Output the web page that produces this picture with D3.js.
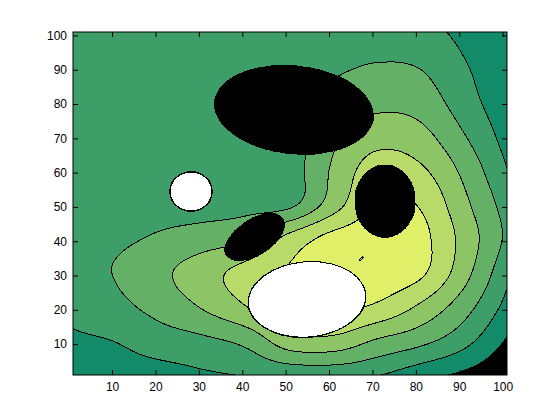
<!DOCTYPE html>
<html>
<head>
<meta charset="utf-8">
<script src="https://cdn.jsdelivr.net/npm/d3@7"></script>
<style>
  body { margin: 0; background: #fff; }
  text { font-family: "Liberation Sans", Arial, sans-serif; font-size: 12px; }
</style>
</head>
<body>
<div id="chart"></div>
<script>
// coarse samples of the smooth surface, every 10 units (rows go up in y, columns go right in x)
var gridX = [1, 11, 21, 31, 41, 51, 61, 71, 81, 91, 101];
var gridY = [1, 11, 21, 31, 41, 51, 61, 71, 81, 91, 101];
var surface = [
  [0.50, 0.60, 0.60, 0.85, 1.05, 1.20, 1.25, 1.05, 0.35, -0.20, -0.90],
  [0.85, 1.03, 1.50, 1.80, 2.30, 3.60, 3.70, 2.90, 2.30, 1.35, -0.10],
  [1.30, 1.75, 2.35, 3.10, 4.00, 4.90, 5.20, 4.85, 3.85, 2.45, 0.70],
  [1.75, 2.05, 2.75, 3.60, 4.35, 5.10, 5.60, 5.60, 5.20, 3.40, 1.25],
  [1.70, 1.85, 2.10, 2.45, 2.90, 4.30, 5.30, 5.50, 5.30, 3.65, 1.80],
  [1.60, 1.70, 1.70, 1.60, 1.65, 1.75, 3.50, 5.10, 4.90, 3.25, 1.55],
  [1.55, 1.60, 1.60, 1.60, 1.60, 1.60, 3.15, 4.50, 4.15, 2.75, 1.02],
  [1.55, 1.55, 1.55, 1.55, 1.55, 1.60, 2.80, 3.55, 3.30, 2.05, 0.60],
  [1.55, 1.55, 1.55, 1.55, 1.55, 1.60, 2.30, 2.70, 2.55, 1.45, 0.30],
  [1.55, 1.55, 1.55, 1.55, 1.55, 1.55, 1.85, 2.05, 1.95, 1.10, 0.25],
  [1.55, 1.55, 1.55, 1.55, 1.55, 1.55, 1.60, 1.70, 1.35, 0.75, 0.10]
];

// sharp bumps: positive ones go off the top of the scale (white), negative ones off the bottom (black)
// the last one is the tiny dip inside the yellow band
var bumpX      = [28.2, 54.9, 51.9, 72.9, 42.9, 67.4];
var bumpY      = [54.5, 23.0, 78.3, 51.7, 41.2, 34.9];
var bumpRx     = [4.85, 13.6, 18.4, 6.9, 8.4, 1.1];
var bumpRy     = [5.7, 10.9, 12.7, 10.5, 4.6, 0.3];
var bumpAngle  = [0, 10, -10, 0, 45, 52];
var bumpHeight = [200, 200, -200, -200, -200, -1.2];

var levels = [0, 1, 2, 3, 4, 5, 6];
var levelColors = ["#138a68", "#3d9e68", "#65b067", "#8dc566", "#b7da69", "#e0ef68", "#ffffff"];
var xTicks = [10, 20, 30, 40, 50, 60, 70, 80, 90, 100];
var yTicks = [10, 20, 30, 40, 50, 60, 70, 80, 90, 100];

var margin = { top: 32, right: 53, bottom: 45, left: 73 },
    width = 560 - margin.left - margin.right,
    height = 420 - margin.top - margin.bottom;

var svg = d3.select("#chart")
      .append("svg")
      .attr("width", 560)
      .attr("height", 420)
      .append("g")
      .attr("transform", "translate(" + margin.left + "," + margin.top + ")");

var xScale = d3.scaleLinear().domain([1, 101]).range([0, width]);
var yScale = d3.scaleLinear().domain([1, 101]).range([height, 0]);

// catmull-rom through the coarse samples
function cr(p0, p1, p2, p3, t) {
      return p1 + 0.5 * t * (p2 - p0 + t * (2 * p0 - 5 * p1 + 4 * p2 - p3 + t * (3 * (p1 - p2) + p3 - p0)));
}
function sample(i, j) {
      var last = gridX.length - 1;
      if (i < 0) return 2 * sample(0, j) - sample(1, j);
      if (i > last) return 2 * sample(last, j) - sample(last - 1, j);
      if (j < 0) return 2 * sample(i, 0) - sample(i, 1);
      if (j > last) return 2 * sample(i, last) - sample(i, last - 1);
      return surface[j][i];
}
function smoothAt(x, y) {
      var step = gridX[1] - gridX[0];
      var u = (x - gridX[0]) / step, v = (y - gridY[0]) / step;
      var i = Math.min(Math.floor(u), gridX.length - 2), j = Math.min(Math.floor(v), gridY.length - 2);
      var tu = u - i, tv = v - j;
      var rows = [];
      for (var dj = -1; dj <= 2; dj++) {
            rows.push(cr(sample(i - 1, j + dj), sample(i, j + dj), sample(i + 1, j + dj), sample(i + 2, j + dj), tu));
      }
      return cr(rows[0], rows[1], rows[2], rows[3], tv);
}
function fieldAt(x, y) {
      var f = smoothAt(x, y);
      for (var k = 0; k < bumpX.length; k++) {
            var a = bumpAngle[k] * Math.PI / 180;
            var dx = x - bumpX[k], dy = y - bumpY[k];
            var u = (dx * Math.cos(a) + dy * Math.sin(a)) / bumpRx[k];
            var v = (-dx * Math.sin(a) + dy * Math.cos(a)) / bumpRy[k];
            var r2 = u * u + v * v;
            if (r2 < 1) f += bumpHeight[k] * (1 - r2);
      }
      return f;
}

// fine grid for the contours
var step = 0.2;
var n = Math.round((101 - 1) / step) + 1;
var values = new Float64Array(n * n);
for (var j = 0; j < n; j++) {
      for (var i = 0; i < n; i++) {
            values[j * n + i] = fieldAt(1 + i * step, 1 + j * step);
      }
}
var contours = d3.contours().size([n, n]).thresholds(levels)(values);

var path = d3.geoPath(d3.geoTransform({
      point: function (x, y) {
            this.stream.point(xScale(1 + (x - 0.5) * step), yScale(1 + (y - 0.5) * step));
      }
}));

svg.append("clipPath").attr("id", "plotclip")
      .append("rect").attr("width", width).attr("height", height);

var plot = svg.append("g").attr("clip-path", "url(#plotclip)");

// below the lowest level everything is black
plot.append("rect").attr("width", width).attr("height", height).attr("fill", "#000");

plot.selectAll("path.fill")
      .data(contours)
      .enter()
      .append("path")
      .attr("class", "fill")
      .attr("d", path)
      .attr("fill", function (d, i) { return levelColors[i]; })
      .attr("stroke", "none");

plot.selectAll("path.line")
      .data(contours)
      .enter()
      .append("path")
      .attr("class", "line")
      .attr("d", path)
      .attr("fill", "none")
      .attr("stroke", "#000")
      .attr("stroke-width", 1)
      .attr("shape-rendering", "crispEdges");

// axes, ticks pointing inward on all four sides
var tick = 5;
svg.append("g")
      .attr("transform", "translate(0," + height + ")")
      .call(d3.axisBottom(xScale).tickValues(xTicks).tickSizeInner(-tick).tickSizeOuter(0).tickPadding(7));
svg.append("g")
      .call(d3.axisTop(xScale).tickValues(xTicks).tickSizeInner(-tick).tickSizeOuter(0).tickFormat(""));
svg.append("g")
      .call(d3.axisLeft(yScale).tickValues(yTicks).tickSizeInner(-tick).tickSizeOuter(0).tickPadding(6));
svg.append("g")
      .attr("transform", "translate(" + width + ",0)")
      .call(d3.axisRight(yScale).tickValues(yTicks).tickSizeInner(-tick).tickSizeOuter(0).tickFormat(""));

svg.selectAll(".domain").remove();
svg.selectAll(".tick line").attr("stroke", "#000");
svg.selectAll(".tick text").attr("fill", "#000").style("font-size", "12px");

svg.append("rect")
      .attr("width", width)
      .attr("height", height)
      .attr("fill", "none")
      .attr("stroke", "#000")
      .attr("stroke-width", 1);
</script>
</body>
</html>
